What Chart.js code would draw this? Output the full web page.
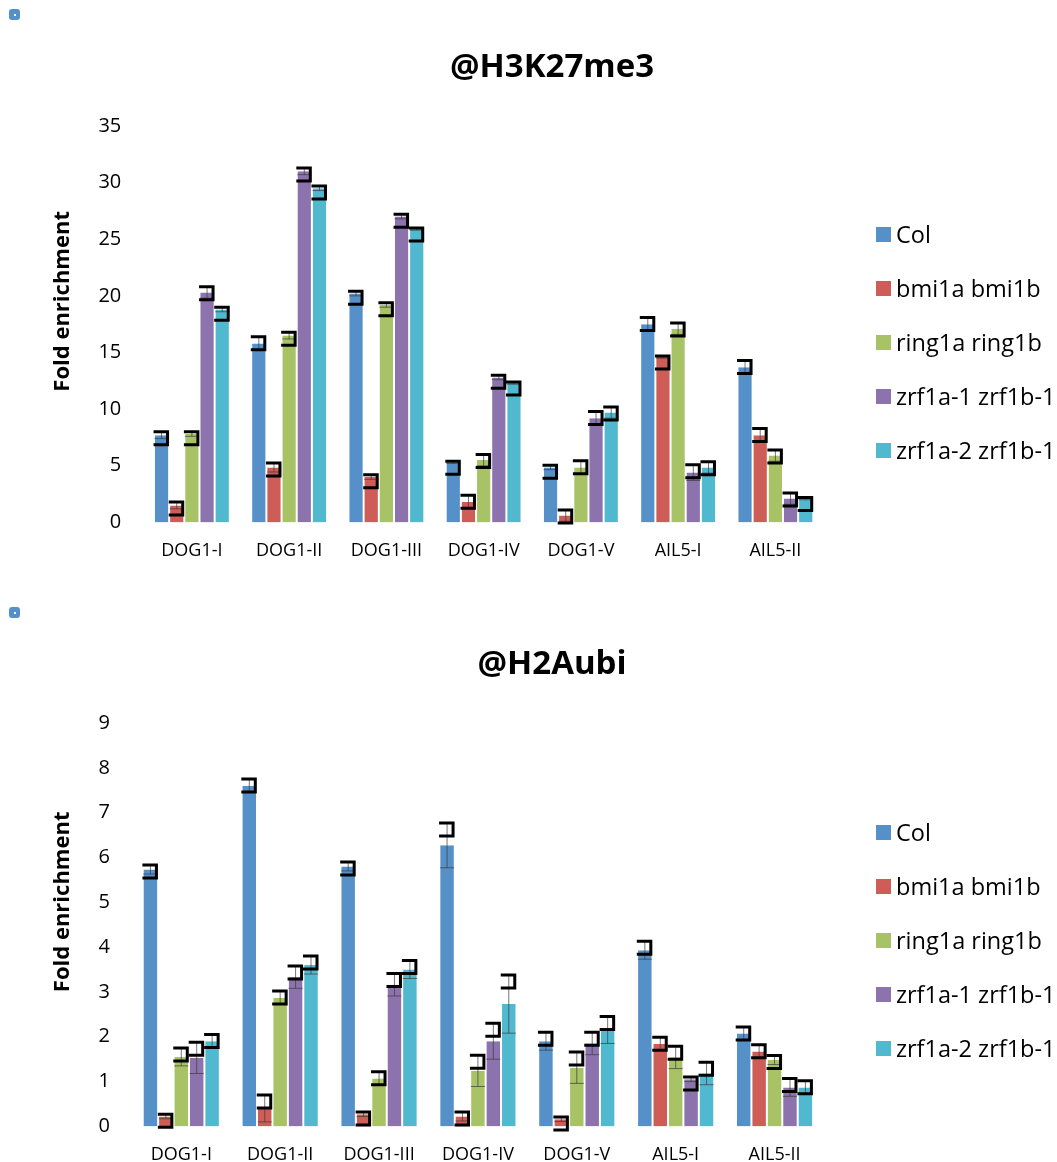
<!DOCTYPE html>
<html>
<head>
<meta charset="utf-8">
<script src="https://cdn.jsdelivr.net/npm/chart.js@4.4.1/dist/chart.umd.min.js"></script>
<style>
  html,body{margin:0;padding:0;background:#fff;}
  body{width:1057px;height:1162px;position:relative;overflow:hidden;font-family:"Open Sans",sans-serif;}
  .box{position:absolute;left:0;width:1057px;}
  .dot{position:absolute;left:9px;width:11px;height:11px;border-radius:3px;background:#5690C8;}
  .dot::after{content:'';position:absolute;left:5px;top:5px;width:2px;height:2px;background:#fff;}
  .title{position:absolute;left:0;width:1104px;text-align:center;font-weight:bold;font-size:33px;line-height:40px;color:#000;}
  .legend{position:absolute;left:876px;margin:0;padding:0;list-style:none;}
  .legend li{height:54px;display:flex;align-items:center;font-size:23.5px;color:#000;white-space:nowrap;}
  .legend span{display:inline-block;width:15px;height:15px;margin-right:5px;}
</style>
</head>
<body>
<div class="dot" style="top:9px"></div>
<div class="dot" style="top:607px"></div>
<div class="box" style="top:0;height:590px"><canvas id="chartTop"></canvas></div>
<div class="box" style="top:597px;height:579px"><canvas id="chartBottom"></canvas></div>
<div class="title" style="top:45px">@H3K27me3</div>
<div class="title" style="top:642px">@H2Aubi</div>
<ul class="legend" id="legendTop" style="top:207px"></ul>
<ul class="legend" id="legendBottom" style="top:805px"></ul>
<script>
const categories = ['DOG1-I','DOG1-II','DOG1-III','DOG1-IV','DOG1-V','AIL5-I','AIL5-II'];
const seriesNames = ['Col','bmi1a bmi1b','ring1a ring1b','zrf1a-1 zrf1b-1','zrf1a-2 zrf1b-1'];
const seriesColors = ['#5690C8','#CD5D56','#A8C366','#8C73AD','#50B8CF'];

// @H3K27me3
const h3Col   = [7.7, 15.8, 20.2, 5.3, 4.85, 17.5, 13.7];
const h3Bmi   = [1.5, 4.85, 4.0, 1.8, 0.6, 14.6, 7.7];
const h3Ring  = [7.8, 16.5, 19.2, 5.5, 4.85, 17.1, 5.9];
const h3Zrf1  = [20.3, 31.0, 27.0, 12.8, 9.2, 4.4, 2.1];
const h3Zrf2  = [18.8, 29.5, 25.9, 12.3, 9.7, 4.85, 2.1];
const h3ColErr  = [0.3, 0.6, 0.2, 0.1, 0.2, 0.6, 0.6];
const h3BmiErr  = [0.3, 0.4, 0.2, 0.6, 0.5, 0.1, 0.6];
const h3RingErr = [0.2, 0.3, 0.2, 0.5, 0.6, 0.5, 0.5];
const h3Zrf1Err = [0.5, 0.3, 0.2, 0.2, 0.6, 0.7, 0.5];
const h3Zrf2Err = [0.2, 0.2, 0.1, 0.1, 0.5, 0.5, 0.1];
const h3Ticks = [0, 5, 10, 15, 20, 25, 30, 35];

// @H2Aubi
const h2Col   = [5.73, 7.6, 5.8, 6.27, 1.9, 3.93, 2.07];
const h2Bmi   = [0.22, 0.4, 0.27, 0.22, 0.16, 1.84, 1.67];
const h2Ring  = [1.55, 2.87, 1.07, 1.24, 1.31, 1.54, 1.48];
const h2Zrf1  = [1.53, 3.33, 3.16, 1.9, 1.85, 1.05, 0.87];
const h2Zrf2  = [1.9, 3.6, 3.5, 2.73, 2.15, 1.18, 0.87];
const h2ColErr  = [0.1, 0.15, 0.1, 0.5, 0.2, 0.2, 0.15];
const h2BmiErr  = [0.05, 0.3, 0.05, 0.1, 0.05, 0.15, 0.15];
const h2RingErr = [0.2, 0.15, 0.15, 0.35, 0.35, 0.25, 0.1];
const h2Zrf1Err = [0.35, 0.25, 0.25, 0.4, 0.25, 0.05, 0.2];
const h2Zrf2Err = [0.15, 0.2, 0.2, 0.65, 0.3, 0.25, 0.15];
const h2Ticks = [0, 1, 2, 3, 4, 5, 6, 7, 8, 9];

const FONT = '"Open Sans", sans-serif';

// error bars from dataset.errors: thin grey whisker + the black bracket cap seen in the original
const errorBars = {
  id: 'errorBars',
  afterDatasetsDraw(chart){
    const ctx = chart.ctx;
    const y = chart.scales.y;
    chart.data.datasets.forEach((ds, i) => {
      const meta = chart.getDatasetMeta(i);
      meta.data.forEach((bar, j) => {
        const v = ds.data[j], e = ds.errors[j];
        const x = bar.x;
        const yTop = y.getPixelForValue(v + e);
        const yBot = y.getPixelForValue(v - e);
        ctx.save();
        ctx.strokeStyle = 'rgba(60,60,60,0.7)';
        ctx.lineWidth = 1;
        ctx.beginPath();
        ctx.moveTo(x, yTop); ctx.lineTo(x, yBot);
        ctx.moveTo(x - 7, yTop); ctx.lineTo(x + 7, yTop);
        ctx.moveTo(x - 7, yBot); ctx.lineTo(x + 7, yBot);
        ctx.stroke();
        ctx.strokeStyle = '#000';
        ctx.lineWidth = 3;
        ctx.lineJoin = 'miter';
        ctx.beginPath();
        ctx.moveTo(x - 8, yTop); ctx.lineTo(x + 6, yTop);
        ctx.lineTo(x + 6, yTop + 13); ctx.lineTo(x - 8, yTop + 13);
        ctx.stroke();
        ctx.restore();
      });
    });
  }
};

function buildLegend(chart, id){
  const ul = document.getElementById(id);
  chart.data.datasets.forEach(ds => {
    const li = document.createElement('li');
    const sw = document.createElement('span');
    sw.style.background = ds.backgroundColor;
    li.appendChild(sw);
    li.appendChild(document.createTextNode(ds.label));
    ul.appendChild(li);
  });
}

function makeChart(canvasId, values, errors, ticks, padTop, padBottom){
  const datasets = seriesNames.map((name, i) => ({
    label: name,
    data: values[i],
    errors: errors[i],
    backgroundColor: seriesColors[i],
    borderColor: 'rgba(255,255,255,0.6)',
    borderWidth: {left:1, right:1, top:0, bottom:0},
    categoryPercentage: 0.78,
    barPercentage: 1.0
  }));
  return new Chart(document.getElementById(canvasId), {
    type: 'bar',
    data: { labels: categories, datasets },
    options: {
      responsive: true,
      maintainAspectRatio: false,
      animation: false,
      layout: { padding: { left: 50, right: 233, top: padTop, bottom: padBottom } },
      plugins: {
        title: { display: false },
        legend: { display: false },
        tooltip: { enabled: false }
      },
      scales: {
        x: {
          grid: { display: false }, border: { display: false },
          ticks: { color: '#000', padding: 10, font: { family: FONT, size: 18 } }
        },
        y: {
          min: ticks[0], max: ticks[ticks.length - 1],
          afterBuildTicks: axis => { axis.ticks = ticks.map(v => ({ value: v })); },
          grid: { display: false }, border: { display: false },
          ticks: { color: '#000', padding: 14, font: { family: FONT, size: 20 } },
          title: {
            display: true, text: '        Fold enrichment', color: '#000',
            font: { family: FONT, size: 22, weight: 'bold' },
            padding: { top: 0, bottom: 8 }
          }
        }
      }
    },
    plugins: [errorBars]
  });
}

const topChart = makeChart('chartTop',
  [h3Col, h3Bmi, h3Ring, h3Zrf1, h3Zrf2],
  [h3ColErr, h3BmiErr, h3RingErr, h3Zrf1Err, h3Zrf2Err], h3Ticks, 126, 18);
const bottomChart = makeChart('chartBottom',
  [h2Col, h2Bmi, h2Ring, h2Zrf1, h2Zrf2],
  [h2ColErr, h2BmiErr, h2RingErr, h2Zrf1Err, h2Zrf2Err], h2Ticks, 126, 0);
buildLegend(topChart, 'legendTop');
buildLegend(bottomChart, 'legendBottom');
</script>
</body>
</html>
